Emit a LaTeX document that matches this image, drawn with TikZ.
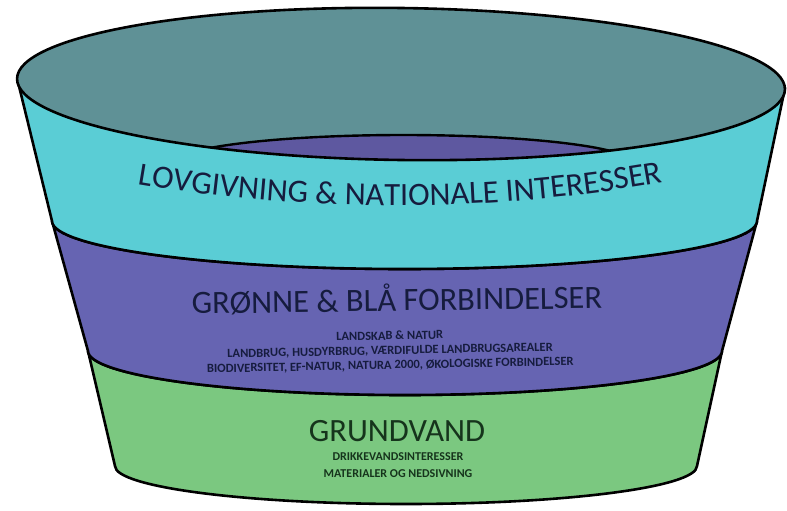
\documentclass[tikz,border=0pt]{standalone}
\usepackage{fontspec}
\setmainfont{Carlito}
\usetikzlibrary{decorations.text}
\definecolor{rimteal}{RGB}{95,145,150}
\definecolor{lawcyan}{RGB}{90,205,213}
\definecolor{greenblue}{RGB}{102,100,178}
\definecolor{lenspurple}{RGB}{94,88,160}
\definecolor{groundgreen}{RGB}{123,200,128}
\definecolor{navytext}{RGB}{22,28,62}
\definecolor{greentext}{RGB}{22,52,28}
\begin{document}
\begin{tikzpicture}[x=1pt, y=-1pt, line join=round]
    \useasboundingbox (0,0) rectangle (787,511);

    % Grundvand layer (green, bottom of the bucket)
    \filldraw[fill=groundgreen, line width=2.6] (88,351) -- (115,466)
        arc[start angle=180, end angle=0, x radius=291, y radius=38] -- (722,351)
        arc[start angle=0, end angle=180, x radius=317, y radius=44] -- cycle;

    % Groenne & blaa layer (purple, middle)
    \filldraw[fill=greenblue, line width=2.6] (52,221) -- (88,351)
        arc[start angle=180, end angle=0, x radius=317, y radius=44] -- (757,221)
        arc[start angle=0, end angle=180, x radius=352.5, y radius=48] -- cycle;

    % Lovgivning layer (cyan, top band)
    \filldraw[fill=lawcyan, line width=2.6] (18,82) -- (52,221)
        arc[start angle=180, end angle=0, x radius=352.5, y radius=48] -- (785,88) -- cycle;

    % Opening of the bucket
    \fill[rimteal, rotate around={-0.8:(401,84)}] (401,84) ellipse[x radius=384, y radius=76];

    % Inner purple layer seen through the opening
    \begin{scope}
        \clip[rotate around={-0.8:(401,84)}] (401,84) ellipse[x radius=384, y radius=76];
        \filldraw[fill=lenspurple, line width=2.4] (403.5,163.3) ellipse[x radius=230, y radius=28.3];
    \end{scope}
    \draw[line width=2.6, rotate around={-0.8:(401,84)}] (401,84) ellipse[x radius=384, y radius=76];

    % Layer titles
    \path[decorate, decoration={text along path, text align=center,
        text format delimiters={|}{|},
        text={|\fontsize{32.5}{32.5}\selectfont\color{navytext}|LOVGIVNING {\&} NATIONALE INTERESSER}}]
        (120,181) .. controls (300,214) and (500,214) .. (680,179);

    \node[font=\fontsize{32.5}{32.5}\selectfont, text=navytext, rotate=0.8, anchor=base] (gronne) at (397,311) {GRØNNE \& BLÅ FORBINDELSER};
    \node[font=\bfseries\fontsize{12.5}{14.6}\selectfont, text=navytext, rotate=1.2, align=center] (gronnelist) at (390,351)
        {LANDSKAB \& NATUR\\LANDBRUG, HUSDYRBRUG, VÆRDIFULDE LANDBRUGSAREALER\\BIODIVERSITET, EF-NATUR, NATURA 2000, ØKOLOGISKE FORBINDELSER};

    \node[font=\fontsize{32.5}{32.5}\selectfont, text=greentext, anchor=base] (grundvand) at (397,441) {GRUNDVAND};
    \node[font=\bfseries\fontsize{12}{17}\selectfont, text=greentext, align=center] (grundlist) at (398,465)
        {DRIKKEVANDSINTERESSER\\MATERIALER OG NEDSIVNING};
\end{tikzpicture}
\end{document}
